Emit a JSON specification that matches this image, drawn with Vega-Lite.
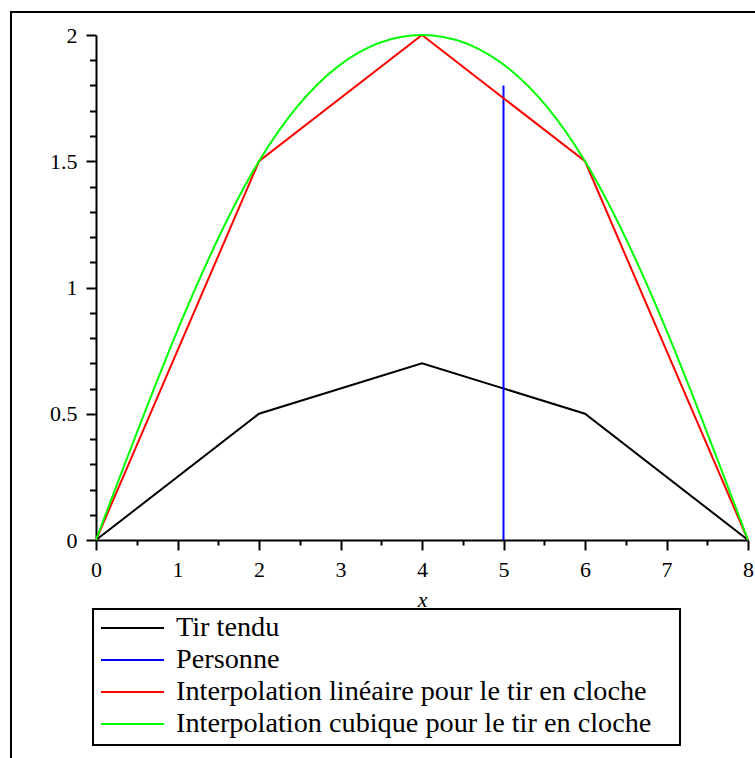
{
  "$schema": "https://vega.github.io/schema/vega-lite/v6.json",
  "width": 652,
  "height": 505,
  "autosize": {"type": "none"},
  "padding": {"left": 96, "top": 35, "right": 7, "bottom": 218},
  "background": "white",
  "config": {"view": {"stroke": null}, "font": "Liberation Serif"},
  "data": {
    "values": [
      {"x": 0, "y": 0, "serie": "Tir tendu"},
      {"x": 2, "y": 0.5, "serie": "Tir tendu"},
      {"x": 4, "y": 0.7, "serie": "Tir tendu"},
      {"x": 6, "y": 0.5, "serie": "Tir tendu"},
      {"x": 8, "y": 0, "serie": "Tir tendu"},
      {"x": 5, "y": 0, "serie": "Personne"},
      {"x": 5, "y": 1.8, "serie": "Personne"},
      {"x": 0, "y": 0, "serie": "Interpolation linéaire pour le tir en cloche"},
      {"x": 2, "y": 1.5, "serie": "Interpolation linéaire pour le tir en cloche"},
      {"x": 4, "y": 2, "serie": "Interpolation linéaire pour le tir en cloche"},
      {"x": 6, "y": 1.5, "serie": "Interpolation linéaire pour le tir en cloche"},
      {"x": 8, "y": 0, "serie": "Interpolation linéaire pour le tir en cloche"},
      {"x": 0, "y": 0, "serie": "Interpolation cubique pour le tir en cloche"},
      {"x": 2, "y": 1.5, "serie": "Interpolation cubique pour le tir en cloche"},
      {"x": 4, "y": 2, "serie": "Interpolation cubique pour le tir en cloche"},
      {"x": 6, "y": 1.5, "serie": "Interpolation cubique pour le tir en cloche"},
      {"x": 8, "y": 0, "serie": "Interpolation cubique pour le tir en cloche"}
    ]
  },
  "resolve": {"axis": {"x": "independent", "y": "independent"}},
  "layer": [
    {
      "data": {"values": [{"frame": 1}]},
      "mark": {"type": "rect", "filled": false, "stroke": "black", "strokeWidth": 2, "clip": false},
      "encoding": {
        "x": {"datum": -1.043, "type": "quantitative", "scale": {"domain": [0, 8], "nice": false, "zero": false}, "axis": null},
        "x2": {"datum": 12},
        "y": {"datum": 2.091, "type": "quantitative", "scale": {"domain": [0, 2], "nice": false, "zero": false}, "axis": null},
        "y2": {"datum": -2}
      }
    },
    {
      "transform": [{"filter": "datum.serie != 'Interpolation cubique pour le tir en cloche'"}],
      "mark": {"type": "line", "strokeWidth": 2, "clip": false},
      "encoding": {
        "x": {
          "field": "x", "type": "quantitative",
          "scale": {"domain": [0, 8], "nice": false, "zero": false},
          "axis": {
            "orient": "bottom", "values": [0, 1, 2, 3, 4, 5, 6, 7, 8], "format": "~g",
            "title": "x", "titleFont": "Liberation Serif", "titleFontStyle": "italic", "titleFontWeight": "normal",
            "titleFontSize": 22, "titleColor": "black", "titleBaseline": "alphabetic", "titleY": 66,
            "labelFont": "Liberation Serif", "labelFontSize": 22, "labelColor": "black", "labelPadding": 9,
            "labelFlush": false, "labelOverlap": false,
            "tickSize": 10, "tickWidth": 2, "tickColor": "black",
            "domainColor": "black", "domainWidth": 2, "grid": false
          }
        },
        "y": {
          "field": "y", "type": "quantitative",
          "scale": {"domain": [0, 2], "nice": false, "zero": false},
          "axis": {
            "orient": "left", "values": [0, 0.5, 1, 1.5, 2], "format": "~g", "title": null,
            "labelFont": "Liberation Serif", "labelFontSize": 22, "labelColor": "black", "labelPadding": 9,
            "labelFlush": false, "labelOverlap": false,
            "tickSize": 10, "tickWidth": 2, "tickColor": "black",
            "domainColor": "black", "domainWidth": 2, "grid": false
          }
        },
        "color": {
          "field": "serie", "type": "nominal",
          "scale": {
            "domain": ["Tir tendu", "Personne", "Interpolation linéaire pour le tir en cloche", "Interpolation cubique pour le tir en cloche"],
            "range": ["black", "#0000ff", "#ff0000", "#00ff00"]
          },
          "legend": {
            "orient": "none", "legendX": -3, "legendY": 574, "direction": "vertical",
            "title": " ", "titleOrient": "right", "titlePadding": 22, "titleFontSize": 28,
            "symbolType": "stroke", "symbolSize": 3969, "symbolStrokeWidth": 2,
            "labelFont": "Liberation Serif", "labelFontSize": 28.25, "labelColor": "black", "labelOffset": 11, "labelLimit": 0,
            "padding": 7, "strokeColor": "black", "fillColor": "white",
            "clipHeight": 24, "rowPadding": 3,
            "encode": {"legend": {"update": {"strokeWidth": {"value": 2}}}}
          }
        }
      }
    },
    {
      "transform": [{"filter": "datum.serie == 'Interpolation cubique pour le tir en cloche'"}],
      "mark": {"type": "line", "strokeWidth": 2, "interpolate": "natural", "clip": false},
      "encoding": {
        "x": {
          "field": "x", "type": "quantitative",
          "axis": {
            "orient": "bottom", "values": [0.5, 1.5, 2.5, 3.5, 4.5, 5.5, 6.5, 7.5],
            "labels": false, "domain": false, "title": null, "grid": false,
            "tickSize": 5, "tickWidth": 2, "tickColor": "black"
          }
        },
        "y": {
          "field": "y", "type": "quantitative",
          "axis": {
            "orient": "left", "values": [0.1, 0.2, 0.3, 0.4, 0.6, 0.7, 0.8, 0.9, 1.1, 1.2, 1.3, 1.4, 1.6, 1.7, 1.8, 1.9],
            "labels": false, "domain": false, "title": null, "grid": false,
            "tickSize": 6.5, "tickWidth": 2, "tickColor": "black"
          }
        },
        "color": {"field": "serie", "type": "nominal"}
      }
    }
  ]
}
